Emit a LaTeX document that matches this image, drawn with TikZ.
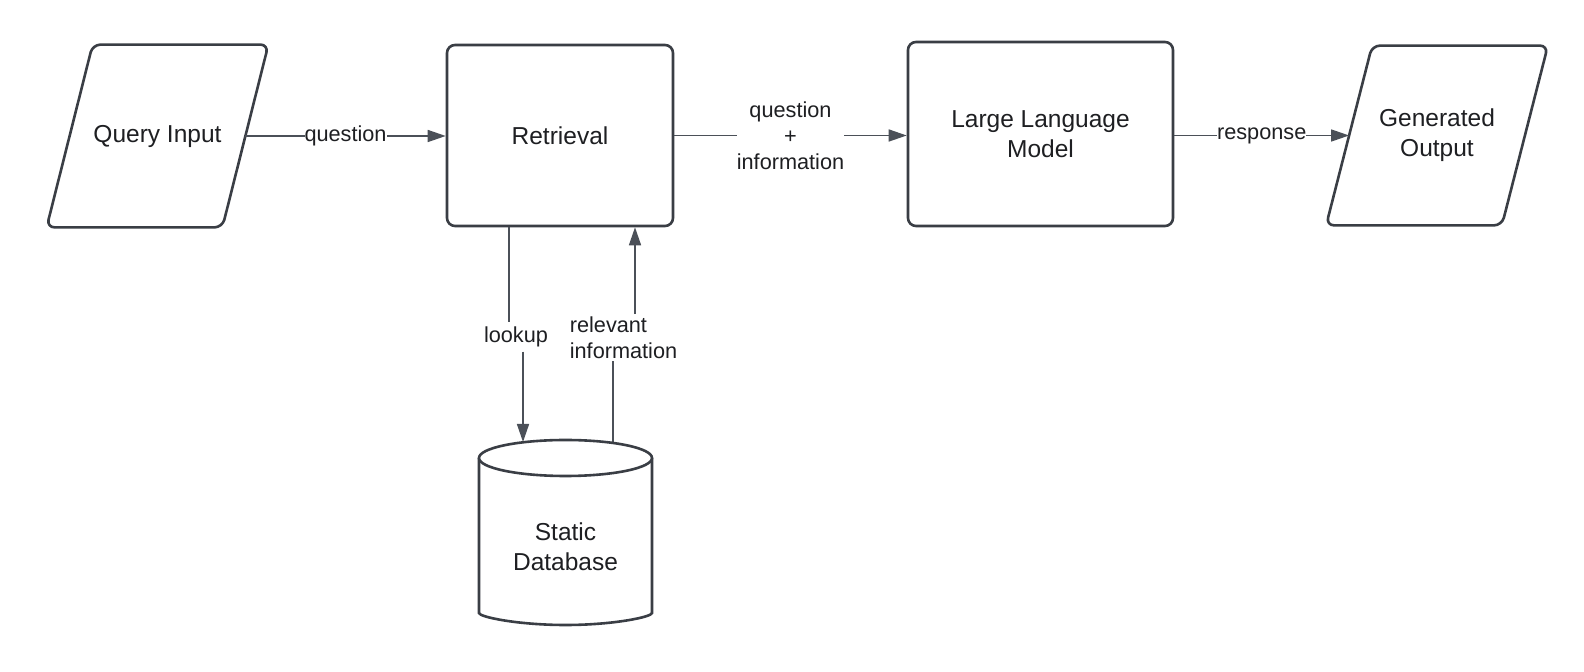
\documentclass[tikz,border=0pt]{standalone}
\usepackage{fontspec}
\setmainfont{Liberation Sans}
\usetikzlibrary{arrows.meta}

\begin{document}
\begin{tikzpicture}[x=0.5pt, y=-0.5pt,
        shell/.style={draw=ink, line width=1.3pt},
        box/.style={shell, rounded corners=4pt, fill=white, align=center, text=txt, font=\fontsize{12.25}{15}\selectfont},
        io/.style={align=center, text=txt, font=\fontsize{12.25}{15}\selectfont, minimum width=87.5pt, minimum height=91pt},
        proc/.style={box, rectangle},
        wire/.style={draw=wire, line width=0.75pt},
        flow/.style={wire, -{Triangle[length=9pt, width=6pt]}},
        lbl/.style={fill=white, inner xsep=0pt, inner ysep=2pt, text=txt, font=\fontsize{10.85}{13}\selectfont}]
        \definecolor{ink}{HTML}{3A3E45}
        \definecolor{wire}{HTML}{4B5058}
        \definecolor{txt}{HTML}{1E1F22}

        % Page
        \fill[white] (0,0) rectangle (1584,672);
        \useasboundingbox (0,0) rectangle (1584,672);

        % Main flow
        \node[io] (qin) at (157.5,136) {Query Input};
        \node[proc, minimum width=113pt, minimum height=90.5pt] (ret) at (560,135.5) {Retrieval};
        \node[proc, minimum width=132.5pt, minimum height=92pt] (llm) at (1040.5,134) {Large Language\\Model};
        \node[io, minimum height=89.5pt] (gen) at (1437,135.5) {Generated\\Output};

        % Slanted input / output frames
        \draw[shell, rounded corners=4pt] ([xshift=11.5pt]qin.north west) -- ([xshift=11.5pt]qin.north east)
            -- ([xshift=-11.5pt]qin.south east) -- ([xshift=-11.5pt]qin.south west) -- cycle;
        \draw[shell, rounded corners=4pt] ([xshift=11.5pt]gen.north west) -- ([xshift=11.5pt]gen.north east)
            -- ([xshift=-11.5pt]gen.south east) -- ([xshift=-11.5pt]gen.south west) -- cycle;

        \draw[flow] (qin.east) -- node[lbl] {question} (qin.east -| ret.west);
        \draw[flow] (ret.east) -- node[lbl, align=center] {question\\+\\information} (ret.east -| llm.west);
        \draw[flow] (llm.east |- gen.west) -- node[lbl] {response} (gen.west);

        % Lookup in the database
        \coordinate (dbtop) at (565.5,442);
        \node[lbl, fill=none] (lkup) at (516,337) {lookup};
        \node[lbl, fill=none, inner ysep=1pt, align=left] (rel) at (623.5,337.5) {relevant\\information};

        \draw[wire] ([xshift=-3.5pt]lkup.north |- ret.south) -- ([xshift=-3.5pt]lkup.north);
        \draw[flow] ([xshift=3.5pt]lkup.south) -- ([xshift=3.5pt]lkup.south |- dbtop);
        \draw[wire] ([xshift=-5.25pt]rel.south |- dbtop) -- ([xshift=-5.25pt]rel.south);
        \draw[flow] ([xshift=5.75pt]rel.north) -- ([xshift=5.75pt]rel.north |- ret.south);

        % Draw the cylinder
        \draw[shell, fill=white, rounded corners=3pt] (479,458) -- (479,607)
            arc[start angle=180, end angle=360, x radius=43.25pt, y radius=9pt] -- (652,458);
        \draw[shell, fill=white] (565.5,458) ellipse [x radius=43.25pt, y radius=9pt];
        \node[align=center, text=txt, font=\fontsize{12.25}{15}\selectfont] (db) at (565.5,547) {Static\\Database};
    \end{tikzpicture}
\end{document}
